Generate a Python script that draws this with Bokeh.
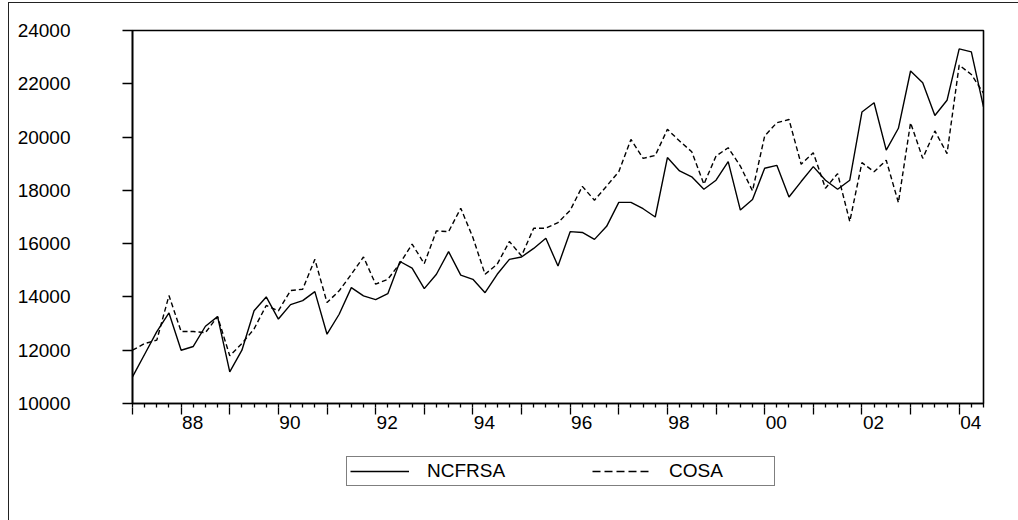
from bokeh.plotting import figure
from bokeh.models import Range1d, FixedTicker, LinearAxis, Legend, LegendItem, Column
from bokeh.embed import file_html
from bokeh.resources import INLINE

START_YEAR = 1987  # first observation: 1987Q1, quarterly

ncfrsa = [11000, 11850, 12700, 13400, 12000, 12140, 12900, 13260, 11190, 12000,
          13480, 14000, 13170, 13710, 13860, 14200, 12600, 13350, 14350, 14040,
          13900, 14120, 15330, 15080, 14310, 14850, 15700, 14820, 14660, 14160,
          14850, 15410, 15500, 15820, 16200, 15160, 16450, 16420, 16160, 16650,
          17550, 17550, 17310, 17000, 19230, 18730, 18510, 18040, 18380, 19080,
          17260, 17660, 18830, 18940, 17750, 18330, 18890, 18380, 18040, 18380,
          20940, 21290, 19510, 20330, 22480, 22040, 20810, 21380, 23310, 23200,
          21130]

cosa = [12000, 12250, 12380, 14050, 12700, 12700, 12660, 13260, 11790, 12250,
        12800, 13680, 13480, 14240, 14290, 15410, 13790, 14230, 14850, 15500,
        14480, 14660, 15260, 15980, 15250, 16480, 16450, 17330, 16230, 14850,
        15230, 16080, 15540, 16580, 16580, 16790, 17250, 18150, 17630, 18160,
        18700, 19910, 19200, 19310, 20290, 19850, 19450, 18230, 19290, 19600,
        18910, 17980, 20040, 20540, 20660, 18980, 19410, 18080, 18630, 16830,
        19040, 18700, 19130, 17540, 20540, 19200, 20230, 19380, 22700, 22350,
        21650]

year_ticks = list(range(1987, 2005))
label_years = [1988, 1990, 1992, 1994, 1996, 1998, 2000, 2002, 2004]
year_labels = ["88", "90", "92", "94", "96", "98", "00", "02", "04"]
y_ticks = [10000, 12000, 14000, 16000, 18000, 20000, 22000, 24000]
y_labels = ["10000", "12000", "14000", "16000", "18000", "20000", "22000", "24000"]
series_names = ["NCFRSA", "COSA"]

x = [START_YEAR + i / 4 for i in range(len(ncfrsa))]
quarter_ticks = [START_YEAR + k / 4 for k in range(len(ncfrsa))]

FONT = "Liberation Sans"
FS = "19px"
LABEL_SHIFT = 0.237  # labels sit just right of their year tick
W = 1009

p = figure(width=W, height=440, output_backend="svg", toolbar_location=None,
           x_range=Range1d(1987, 2004.5), y_range=Range1d(10000, 24000),
           min_border_left=123, min_border_right=35, min_border_top=27,
           min_border_bottom=40)
p.xgrid.visible = False
p.ygrid.visible = False
p.outline_line_color = "black"
p.outline_line_width = 1.6
p.background_fill_color = "white"
p.border_fill_color = "white"

r1 = p.line(x, ncfrsa, line_color="black", line_width=1.4)
r2 = p.line(x, cosa, line_color="black", line_width=1.4, line_dash="5 3")

# x axis 1: quarter tick marks only (no major ticks, hence no labels)
xa = p.xaxis[0]
xa.ticker = FixedTicker(ticks=[], minor_ticks=quarter_ticks)
xa.major_tick_out = 0
xa.major_tick_in = 0
xa.minor_tick_out = 4
xa.minor_tick_in = 0
xa.minor_tick_line_width = 1.3
xa.axis_line_width = 1.6
xa.major_label_standoff = 0

# x axis 2: year ticks (taller) and year labels, left-aligned at the year tick
p.extra_x_ranges = {"labels": Range1d(1987 - LABEL_SHIFT, 2004.5 - LABEL_SHIFT)}
la = LinearAxis(x_range_name="labels",
                ticker=FixedTicker(ticks=label_years,
                                   minor_ticks=[y - LABEL_SHIFT for y in year_ticks]),
                major_label_overrides={y: l for y, l in zip(label_years, year_labels)})
la.axis_line_color = None
la.major_tick_line_color = None
la.minor_tick_line_color = "black"
la.minor_tick_line_width = 1.3
la.minor_tick_out = 7
la.minor_tick_in = 0
la.major_tick_out = 0
la.major_tick_in = 0
la.major_label_standoff = 1
la.major_label_text_font = FONT
la.major_label_text_font_size = FS
la.major_label_text_color = "black"
p.add_layout(la, "below")

# y axis
ya = p.yaxis[0]
ya.ticker = FixedTicker(ticks=y_ticks, minor_ticks=[])
ya.major_label_overrides = {v: l for v, l in zip(y_ticks, y_labels)}
ya.major_tick_out = 10
ya.major_tick_in = 0
ya.major_tick_line_width = 1.3
ya.minor_tick_line_color = None
ya.axis_line_width = 1.6
ya.major_label_standoff = 52
ya.major_label_text_font = FONT
ya.major_label_text_font_size = FS
ya.major_label_text_color = "black"

# legend strip below the chart (its series lie outside this strip's ranges)
p2 = figure(width=W, height=77, output_backend="svg", toolbar_location=None,
            x_range=Range1d(0, 1), y_range=Range1d(0, 1),
            x_axis_type=None, y_axis_type=None, min_border=0)
p2.xgrid.visible = False
p2.ygrid.visible = False
p2.outline_line_color = None
p2.background_fill_color = "white"
p2.border_fill_color = "white"
k1 = p2.line(x, ncfrsa, line_color="black", line_width=1.3)
k2 = p2.line(x, cosa, line_color="black", line_width=1.3, line_dash="8 4")

legend = Legend(items=[LegendItem(label=series_names[0], renderers=[k1]),
                       LegendItem(label=series_names[1], renderers=[k2])],
                orientation="horizontal", location=(214, 34),
                glyph_width=59, glyph_height=20, label_standoff=18,
                label_width=102, spacing=63, padding=3, margin=0,
                border_line_color="black", border_line_width=1.3,
                background_fill_color="white", background_fill_alpha=1,
                label_text_font=FONT, label_text_font_size=FS,
                label_text_color="black")
p2.add_layout(legend)

layout = Column(p, p2, spacing=0)
layout.styles = {"border-left": "1px solid #222", "border-top": "1px solid #222",
                 "margin": "2px 0 0 8px"}

open("out.html", "w").write(file_html(layout, INLINE))
